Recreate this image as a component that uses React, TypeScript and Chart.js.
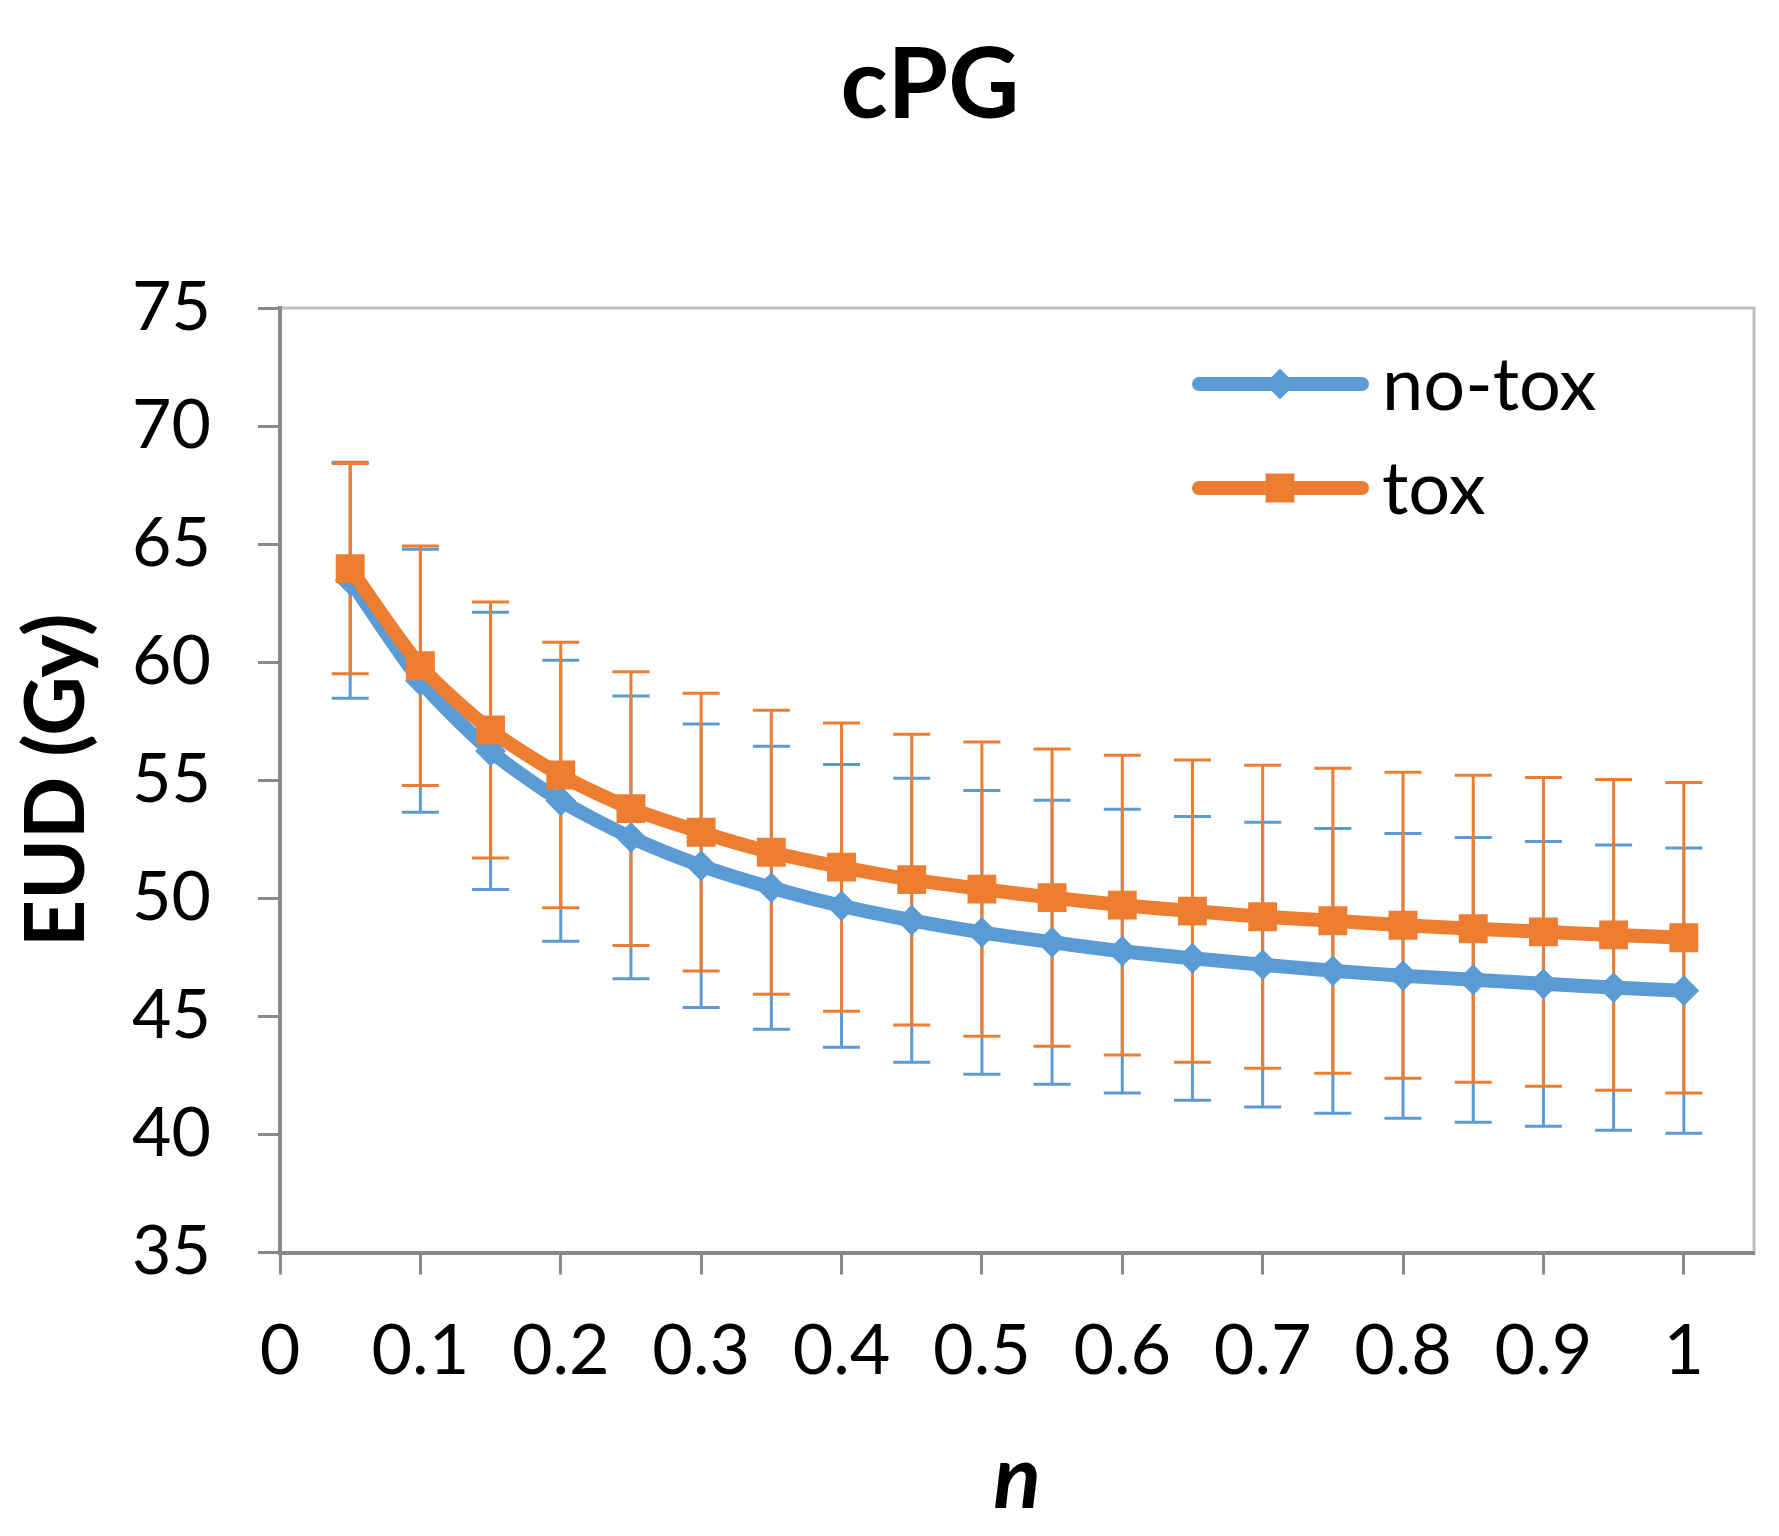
import { useEffect, useRef } from "react";
import { Chart, registerables } from "chart.js";
import { drawPoint } from "chart.js/helpers";

Chart.register(...registerables);

// n values (x) and EUD mean / SD per group
const nValues = [
  0.05, 0.1, 0.15, 0.2, 0.25, 0.3, 0.35, 0.4, 0.45, 0.5, 0.55, 0.6, 0.65, 0.7,
  0.75, 0.8, 0.85, 0.9, 0.95, 1.0,
];
const noToxMean = [
  63.47, 59.21, 56.24, 54.13, 52.58, 51.38, 50.45, 49.68, 49.07, 48.56, 48.14,
  47.76, 47.46, 47.19, 46.93, 46.72, 46.55, 46.38, 46.22, 46.09,
];
const noToxSd = [
  5.0, 5.57, 5.87, 5.95, 5.99, 6.0, 5.99, 5.99, 6.01, 6.01, 6.01, 6.01, 6.01,
  6.03, 6.03, 6.03, 6.03, 6.03, 6.04, 6.04,
];
const toxMean = [
  63.96, 59.85, 57.13, 55.22, 53.8, 52.8, 51.95, 51.32, 50.79, 50.39, 50.03,
  49.71, 49.46, 49.22, 49.05, 48.86, 48.71, 48.58, 48.45, 48.33,
];
const toxSd = [
  4.45, 5.07, 5.42, 5.62, 5.8, 5.88, 6.01, 6.1, 6.16, 6.23, 6.29, 6.35, 6.4,
  6.42, 6.46, 6.48, 6.5, 6.54, 6.58, 6.58,
];

const chartTitle = "cPG";
const xTitle = "n";
const yTitle = "EUD (Gy)";
const seriesLabels = ["no-tox", "tox"];

const BLUE = "#5B9BD5";
const ORANGE = "#ED7D31";
const AXIS = "#898989";
const FONT = "Lato, 'Noto Sans', sans-serif";

const series = [
  { label: seriesLabels[0], mean: noToxMean, sd: noToxSd, color: BLUE, style: "rectRot", radius: 14 },
  { label: seriesLabels[1], mean: toxMean, sd: toxSd, color: ORANGE, style: "rect", radius: 19 },
];

// light frame round the plot area (Excel plot-area border)
const plotBorder = {
  id: "plotBorder",
  beforeDraw(chart: any) {
    const { ctx, chartArea: a } = chart;
    ctx.save();
    ctx.strokeStyle = "#BFBFBF";
    ctx.lineWidth = 3;
    ctx.strokeRect(a.left, a.top, a.right - a.left, a.bottom - a.top);
    ctx.restore();
  },
};

// +/- SD whiskers with caps, under the lines
const errorBars = {
  id: "errorBars",
  beforeDatasetsDraw(chart: any) {
    const { ctx } = chart;
    const { x, y } = chart.scales;
    ctx.save();
    ctx.lineWidth = 3;
    for (const s of series) {
      ctx.strokeStyle = s.color;
      nValues.forEach((n, i) => {
        const px = x.getPixelForValue(n);
        const top = y.getPixelForValue(s.mean[i] + s.sd[i]);
        const bot = y.getPixelForValue(s.mean[i] - s.sd[i]);
        ctx.beginPath();
        ctx.moveTo(px, top);
        ctx.lineTo(px, bot);
        ctx.moveTo(px - 18.5, top);
        ctx.lineTo(px + 18.5, top);
        ctx.moveTo(px - 18.5, bot);
        ctx.lineTo(px + 18.5, bot);
        ctx.stroke();
      });
    }
    ctx.restore();
  },
};

// title and in-plot legend (line + marker, like Excel)
const titleAndLegend = {
  id: "titleAndLegend",
  afterDraw(chart: any) {
    const { ctx } = chart;
    ctx.save();
    ctx.fillStyle = "#000";
    ctx.textAlign = "center";
    ctx.textBaseline = "alphabetic";
    ctx.font = `bold 98px ${FONT}`;
    ctx.fillText(chartTitle, 930, 118);

    series.forEach((s, i) => {
      const cy = 384 + i * 104;
      ctx.strokeStyle = s.color;
      ctx.lineWidth = 14;
      ctx.lineCap = "round";
      ctx.beginPath();
      ctx.moveTo(1199, cy);
      ctx.lineTo(1362, cy);
      ctx.stroke();
      ctx.fillStyle = s.color;
      ctx.lineWidth = 2;
      drawPoint(ctx, { pointStyle: s.style as any, radius: s.radius, rotation: 0, borderWidth: 2 }, 1280, cy);
      ctx.fillStyle = "#000";
      ctx.textAlign = "left";
      ctx.font = `74px ${FONT}`;
      ctx.fillText(s.label, 1382, cy + 26);
    });
    ctx.restore();
  },
};

export default function App() {
  const canvasRef = useRef<HTMLCanvasElement | null>(null);
  const chartRef = useRef<Chart | null>(null);

  useEffect(() => {
    if (!canvasRef.current) return;
    if (chartRef.current) chartRef.current.destroy();

    chartRef.current = new Chart(canvasRef.current, {
      type: "line",
      data: {
        datasets: series.map((s, k) => ({
          label: s.label,
          data: nValues.map((n, i) => ({ x: n, y: s.mean[i] })),
          borderColor: s.color,
          backgroundColor: s.color,
          borderWidth: 14,
          borderCapStyle: "round",
          borderJoinStyle: "round",
          tension: 0.25,
          pointStyle: s.style as any,
          pointRadius: s.radius,
          pointBorderWidth: 2,
          pointBackgroundColor: s.color,
          pointBorderColor: s.color,
          order: k === 0 ? 1 : 0,
        })),
      },
      options: {
        animation: false,
        responsive: true,
        maintainAspectRatio: false,
        layout: { padding: { top: 308, right: 25, left: 0, bottom: 0 } },
        plugins: {
          legend: { display: false },
          title: { display: false },
          tooltip: { enabled: false },
        },
        scales: {
          x: {
            type: "linear",
            min: 0,
            max: 1.05,
            afterFit: (s: any) => {
              s.height = 283.5;
            },
            border: { color: AXIS, width: 4 },
            grid: { drawOnChartArea: false, tickLength: 22, tickWidth: 3, tickColor: AXIS },
            ticks: {
              stepSize: 0.1,
              includeBounds: false,
              autoSkip: false,
              maxRotation: 0,
              padding: 35,
              color: "#000",
              font: { family: FONT, size: 70 },
              callback: (v: any) => String(Math.round(Number(v) * 10) / 10),
            },
            title: {
              display: true,
              text: xTitle,
              color: "#000",
              font: { family: FONT, size: 88, weight: "bold", style: "italic" },
              padding: { top: 0, bottom: 4 },
            },
          },
          y: {
            min: 35,
            max: 75,
            afterFit: (s: any) => {
              s.width = 280;
            },
            border: { color: AXIS, width: 4 },
            grid: { drawOnChartArea: false, tickLength: 22, tickWidth: 3, tickColor: AXIS },
            ticks: {
              stepSize: 5,
              padding: 47,
              color: "#000",
              font: { family: FONT, size: 68 },
            },
            title: {
              display: true,
              text: yTitle,
              color: "#000",
              font: { family: FONT, size: 82, weight: "bold" },
              padding: { top: 8, bottom: 0 },
            },
          },
        },
      },
      plugins: [plotBorder, errorBars, titleAndLegend],
    });

    return () => {
      if (chartRef.current) {
        chartRef.current.destroy();
        chartRef.current = null;
      }
    };
  }, []);

  return (
    <div
      style={{
        position: "absolute",
        left: 0,
        top: 0,
        width: 1779,
        height: 1536,
        background: "#fff",
      }}
    >
      <canvas ref={canvasRef} />
    </div>
  );
}
